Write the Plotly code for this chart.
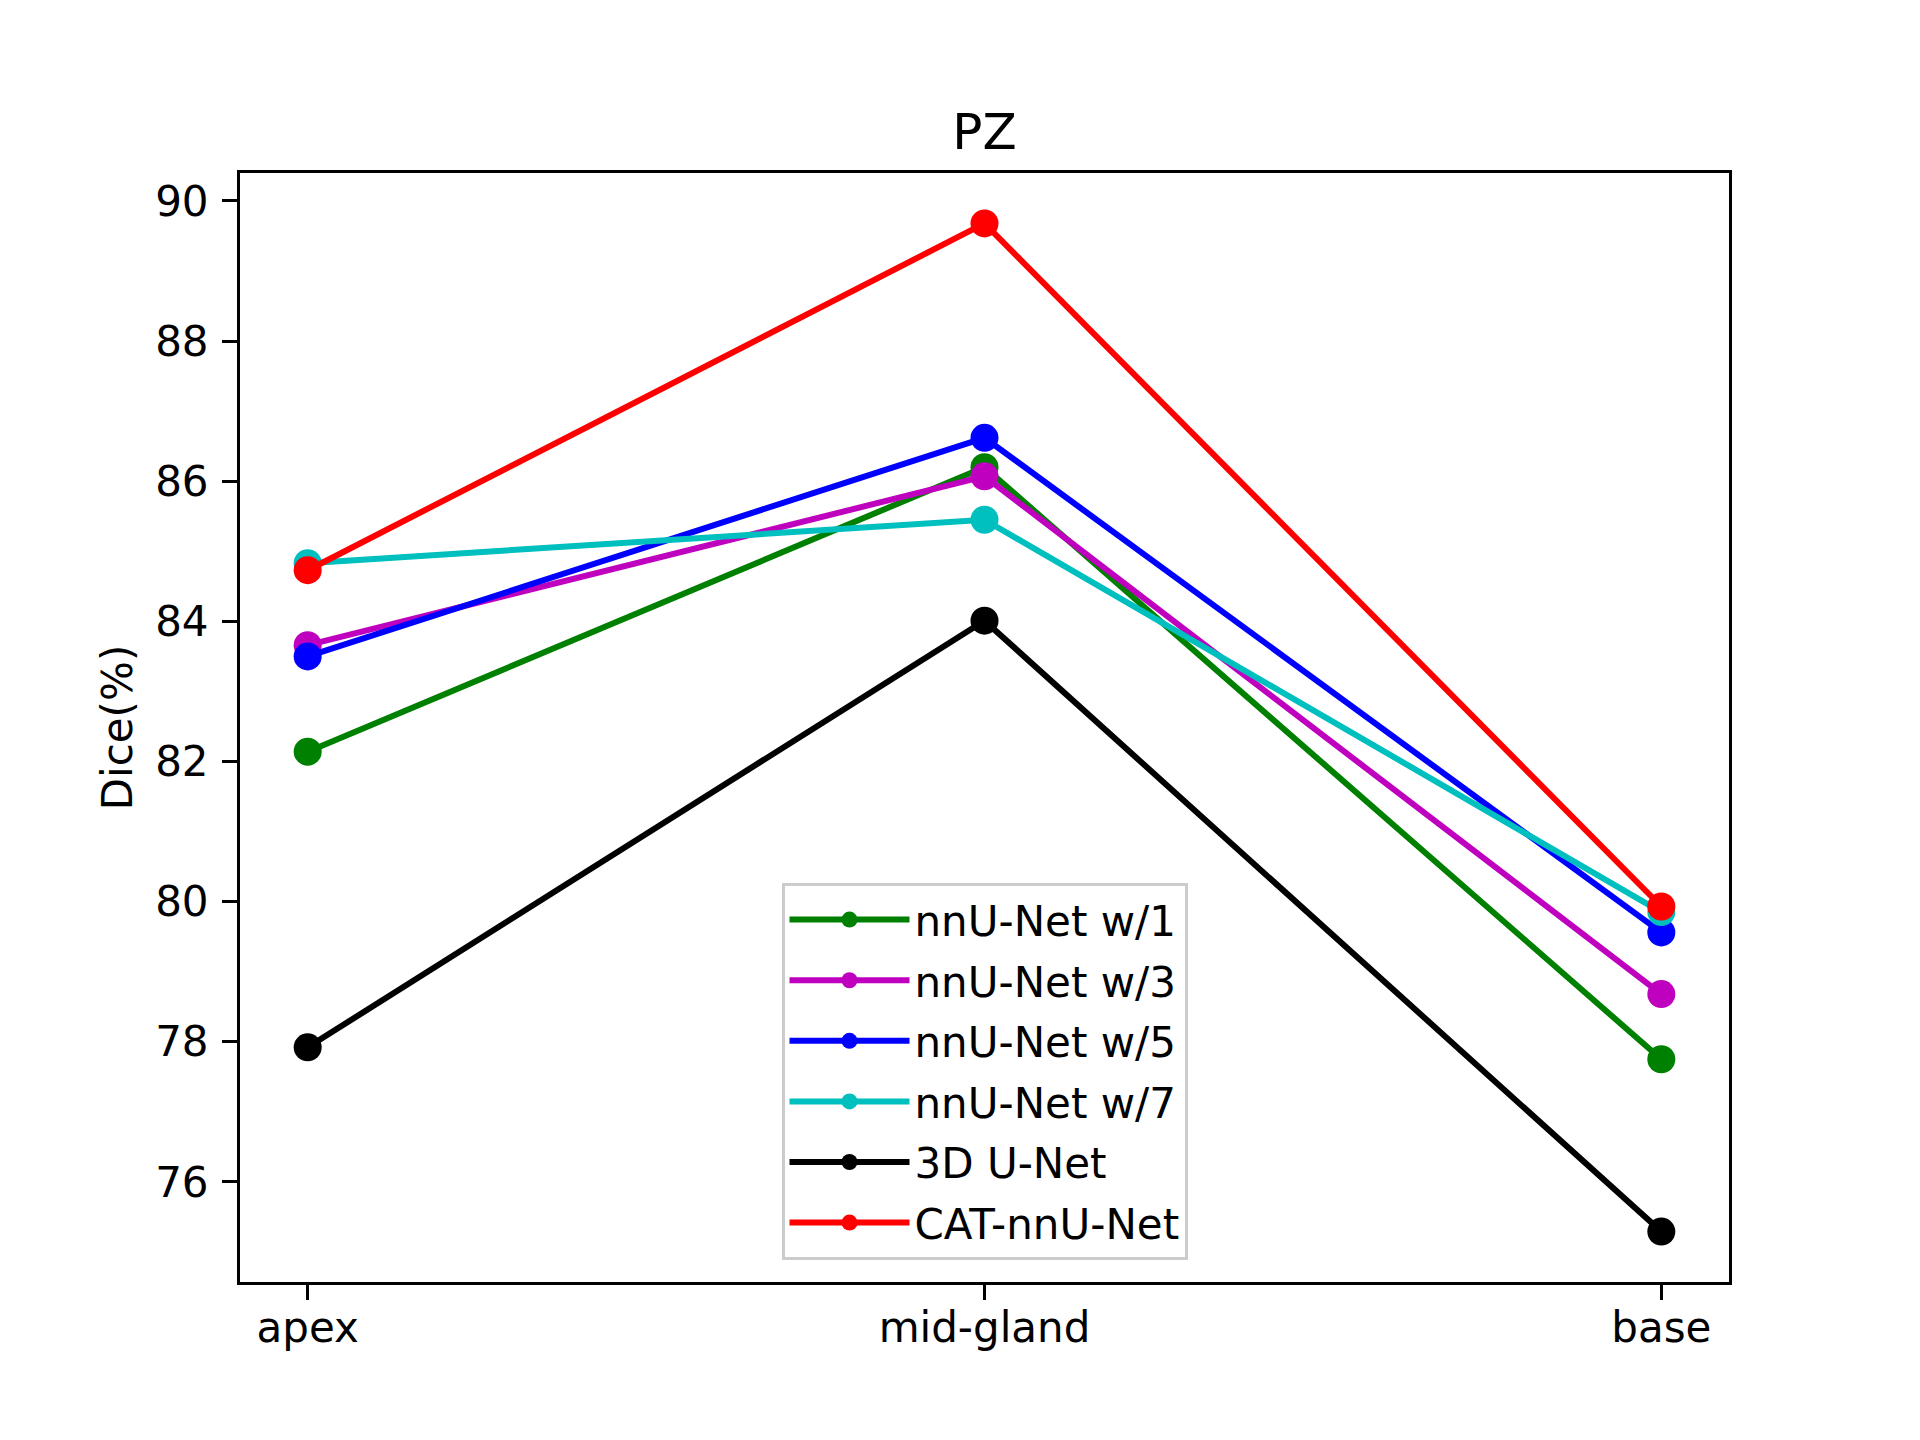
import plotly.graph_objects as go

regions = ["apex", "mid-gland", "base"]

nnunet_w1 = [82.14, 86.20, 77.75]
nnunet_w3 = [83.66, 86.07, 78.68]
nnunet_w5 = [83.50, 86.62, 79.56]
nnunet_w7 = [84.83, 85.45, 79.85]
unet_3d = [77.92, 84.01, 75.29]
cat_nnunet = [84.73, 89.68, 79.93]

names = ["nnU-Net w/1", "nnU-Net w/3", "nnU-Net w/5", "nnU-Net w/7", "3D U-Net", "CAT-nnU-Net"]
series = [nnunet_w1, nnunet_w3, nnunet_w5, nnunet_w7, unet_3d, cat_nnunet]
colors = ["#008000", "#bf00bf", "#0000ff", "#00bfbf", "#000000", "#ff0000"]

fig = go.Figure()
for name, vals, col in zip(names, series, colors):
    fig.add_trace(go.Scatter(
        x=list(range(len(regions))), y=vals, name=name, mode="lines+markers",
        legendgroup=name,  # one group per trace so tracegroupgap spaces the rows
        line=dict(color=col, width=6),
        marker=dict(color=col, size=28),
    ))

# matplotlib-like 5% margins around the data
all_vals = [v for s in series for v in s]
lo, hi = min(all_vals), max(all_vals)
pad = (hi - lo) * 0.05

axis_style = dict(
    showline=True, linecolor="black", linewidth=3, mirror=True,
    ticks="outside", ticklen=15, tickwidth=3, tickcolor="black",
    showgrid=False, zeroline=False,
    tickfont=dict(family="DejaVu Sans", size=42, color="black"),
)

fig.update_layout(
    width=1920, height=1440,
    margin=dict(l=240, r=191, t=173, b=158),
    plot_bgcolor="white", paper_bgcolor="white",
    font=dict(family="DejaVu Sans", size=42, color="black"),
    title=dict(text="PZ", x=0.5, xref="paper", xanchor="center",
               y=1, yref="paper", yanchor="bottom", pad=dict(b=24),
               font=dict(size=50)),
    xaxis=dict(range=[-0.1, 2.1], tickvals=list(range(len(regions))),
               ticktext=regions, ticklabelstandoff=-8, **axis_style),
    yaxis=dict(range=[lo - pad, hi + pad], dtick=2, ticklabelstandoff=5,
               title=dict(text="Dice(%)", standoff=10, font=dict(size=42)),
               **axis_style),
    legend=dict(x=0.5, xanchor="center", y=0.02, yanchor="bottom",
                bgcolor="white", bordercolor="#cccccc", borderwidth=3,
                itemwidth=120, tracegroupgap=3, font=dict(size=42)),
)

fig.write_html("out.html", config={"displayModeBar": False},
               post_script="document.body.style.margin='0';")
